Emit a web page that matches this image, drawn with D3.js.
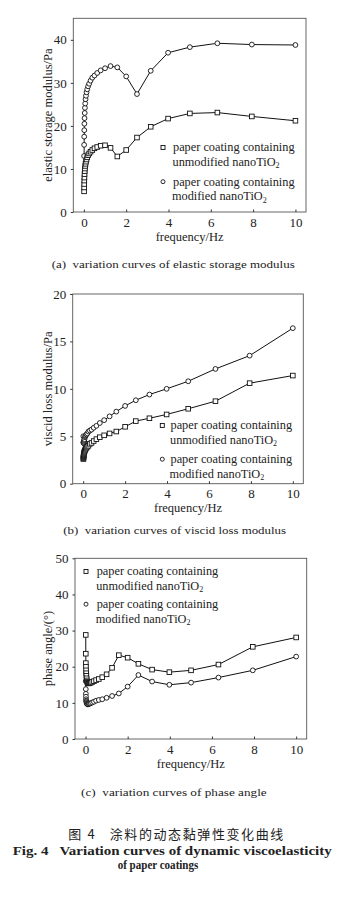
<!DOCTYPE html>
<html><head><meta charset="utf-8">
<script src="https://cdn.jsdelivr.net/npm/d3@7"></script>
<style>
body{margin:0;background:#fff;}
svg{display:block;}
text{font-family:"Liberation Serif","Times New Roman",serif;fill:#222;white-space:pre;}
</style></head>
<body>
<script>
// ---- data ----
const freq = [0.01,0.0126,0.0158,0.02,0.0251,0.0316,0.0398,0.0501,0.0631,0.0794,
  0.1,0.126,0.158,0.2,0.251,0.316,0.398,0.501,0.631,0.794,
  1,1.26,1.58,2,2.51,3.16,3.98,5.01,6.31,7.94,10];

// (a) elastic storage modulus / Pa
const storageUnmod = [4.8,5.7,6.5,7.3,8.0,8.8,9.5,10.1,10.7,11.2,
  11.7,12.2,12.7,13.2,13.6,14.0,14.4,14.8,15.1,15.4,
  15.5,14.9,12.9,14.4,17.3,19.8,21.7,22.9,23.1,22.2,21.2];
const storageMod = [13.0,15.6,17.5,19.0,20.5,21.8,23.0,24.2,25.2,26.2,
  27.0,27.8,28.5,29.2,29.8,30.5,31.2,31.7,32.3,32.9,
  33.4,33.9,33.6,31.5,27.4,32.8,37.0,38.3,39.2,38.9,38.8];

// (b) viscid loss modulus / Pa
const lossUnmod = [2.6,2.7,2.8,2.9,3.0,3.1,3.2,3.3,3.4,3.5,
  3.6,3.7,3.8,3.9,4.0,4.2,4.3,4.5,4.7,4.9,
  5.1,5.3,5.5,6.0,6.6,6.9,7.3,7.9,8.7,10.6,11.4];
const lossMod = [5.0,4.4,4.3,4.3,4.3,4.4,4.5,4.6,4.7,4.9,
  5.0,5.1,5.2,5.3,5.5,5.6,5.7,5.9,6.1,6.4,
  6.7,7.1,7.6,8.2,8.8,9.4,10.0,10.8,12.1,13.5,16.4];

// (c) phase angle / degree
const phaseUnmod = [28.8,23.6,21.0,20.0,19.0,18.2,17.5,16.8,16.2,15.8,
  15.5,15.4,15.4,15.5,15.6,15.8,16.0,16.3,16.6,17.1,
  17.9,19.7,23.2,22.5,20.8,19.2,18.5,19.0,20.6,25.5,28.1];
const phaseMod = [16.0,13.8,12.5,11.7,11.0,10.6,10.3,10.0,9.8,9.7,
  9.6,9.6,9.7,9.8,9.9,10.1,10.3,10.6,10.8,11.0,
  11.4,11.9,12.6,14.5,17.7,15.9,15.0,15.6,17.0,19.0,22.8];

const xTicks = [0,2,4,6,8,10];
const yTicksA = [0,10,20,30,40];
const yTicksB = [0,5,10,15,20];
const yTicksC = [0,10,20,30,40,50];

const legendLine1 = "paper coating containing";
const legendUnmod = "unmodified nanoTiO";
const legendMod = "modified nanoTiO";

const captionA = "(a)  variation curves of elastic storage modulus";
const captionB = "(b)  variation curves of viscid loss modulus";
const captionC = "(c)  variation curves of phase angle";
const titleCN = "图 4   涂料的动态黏弹性变化曲线";
const titleEN1 = "Fig. 4   Variation curves of dynamic viscoelasticity";
const titleEN2 = "of paper coatings";

// ---- drawing ----
const svg = d3.select("body").append("svg").attr("width",350).attr("height",902);

function panel(o){
  const x = d3.scaleLinear().domain([-0.5,10.5]).range([o.l,o.r]);
  const y = d3.scaleLinear().domain(o.yDomain).range([o.b,o.t]);
  const g = svg.append("g");
  // frame
  g.append("rect").attr("x",o.l).attr("y",o.t).attr("width",o.r-o.l).attr("height",o.b-o.t)
    .attr("fill","none").attr("stroke","#555").attr("stroke-width",0.9);
  // x axis (inward ticks)
  const xa = g.append("g").attr("transform",`translate(0,${o.b})`)
    .call(d3.axisBottom(x).tickValues(xTicks).tickSize(-2.5).tickPadding(0).tickSizeOuter(0));
  xa.select(".domain").remove();
  xa.selectAll("line").attr("stroke","#333");
  xa.selectAll("text").attr("y",14.5).attr("dy",null).attr("font-size",13).attr("fill","#222")
    .style("font-family",'"Liberation Serif",serif');
  // y axis (outward ticks)
  const ya = g.append("g").attr("transform",`translate(${o.l},0)`)
    .call(d3.axisLeft(y).tickValues(o.yTicks).tickSize(2.5).tickPadding(4).tickSizeOuter(0));
  ya.select(".domain").remove();
  ya.selectAll("line").attr("stroke","#333");
  ya.selectAll("text").attr("font-size",13).attr("fill","#222")
    .style("font-family",'"Liberation Serif",serif');
  // axis titles
  g.append("text").attr("x",(o.l+o.r)/2).attr("y",o.b+28.5).attr("text-anchor","middle")
    .attr("font-size",12.5).text("frequency/Hz");
  g.append("text").attr("transform",`translate(52,${(o.t+o.b)/2}) rotate(-90)`)
    .attr("text-anchor","middle").attr("font-size",12.5).text(o.yTitle);
  // series
  const line = d3.line().x((d,i)=>x(freq[i])).y(d=>y(d));
  [o.mod,o.unmod].forEach((arr,k)=>{
    g.append("path").datum(arr).attr("d",line).attr("fill","none")
      .attr("stroke","#111").attr("stroke-width",1);
  });
  g.selectAll(".cm").data(o.mod).enter().append("circle")
    .attr("cx",(d,i)=>x(freq[i])).attr("cy",d=>y(d)).attr("r",2.4)
    .attr("fill","#fff").attr("stroke","#111").attr("stroke-width",0.9);
  g.selectAll(".sq").data(o.unmod).enter().append("rect")
    .attr("x",(d,i)=>x(freq[i])-2.3).attr("y",d=>y(d)-2.3).attr("width",4.6).attr("height",4.6)
    .attr("fill","#fff").attr("stroke","#111").attr("stroke-width",0.9);
  // legend
  const L = o.legend;
  g.append("rect").attr("x",L.mx-2).attr("y",L.y1-2-3.5).attr("width",4).attr("height",4)
    .attr("fill","#fff").attr("stroke","#111").attr("stroke-width",0.9);
  g.append("circle").attr("cx",L.mx).attr("cy",L.y3-3.8).attr("r",2)
    .attr("fill","#fff").attr("stroke","#111").attr("stroke-width",0.9);
  const lt = (xx,yy,s,sub)=>{
    const t = g.append("text").attr("x",xx).attr("y",yy).attr("font-size",12.3).text(s);
    if(sub) t.append("tspan").attr("font-size",8).attr("dy",2.5).text("2");
  };
  lt(L.tx,L.y1,legendLine1,false);
  lt(L.tx-0.5,L.y1+14.5,legendUnmod,true);
  lt(L.tx,L.y3,legendLine1,false);
  lt(L.tx-1,L.y3+14.5,legendMod,true);
  // caption
  g.append("text").attr("x",o.cap.x).attr("y",o.cap.y).attr("font-size",10.5)
    .attr("textLength",o.cap.w).attr("lengthAdjust","spacingAndGlyphs").attr("fill","#333")
    .style("font-family",'"Liberation Serif",serif')
    .text(o.cap.text);
}

panel({l:73.3,r:306,t:18.3,b:212,yDomain:[0,45],yTicks:yTicksA,
  yTitle:"elastic storage modulus/Pa",unmod:storageUnmod,mod:storageMod,
  legend:{mx:163,tx:173,y1:151,y3:185.5},
  cap:{x:51.7,y:268,w:243,text:captionA}});
panel({l:72.7,r:303.3,t:294,b:483.7,yDomain:[0,20],yTicks:yTicksB,
  yTitle:"viscid loss modulus/Pa",unmod:lossUnmod,mod:lossMod,
  legend:{mx:162.3,tx:170.5,y1:429,y3:463},
  cap:{x:63.3,y:534,w:222.7,text:captionB}});
panel({l:75,r:306.7,t:558.3,b:739,yDomain:[0,50],yTicks:yTicksC,
  yTitle:"phase angle/(°)",unmod:phaseUnmod,mod:phaseMod,
  legend:{mx:86,tx:96.7,y1:575,y3:608},
  cap:{x:81,y:796,w:185.7,text:captionC}});

// figure titles
svg.append("text").attr("x",68.3).attr("y",839).attr("font-size",13)
  .attr("textLength",215).attr("lengthAdjust","spacing")
  .style("font-family",'"Noto Sans CJK SC",sans-serif').attr("fill","#222").text(titleCN);
svg.append("text").attr("x",12.7).attr("y",855).attr("font-size",12.3).attr("font-weight","bold")
  .attr("textLength",319).attr("lengthAdjust","spacingAndGlyphs").attr("fill","#222").text(titleEN1);
svg.append("text").attr("x",117.7).attr("y",869).attr("font-size",12.3).attr("font-weight","bold")
  .attr("textLength",80.6).attr("lengthAdjust","spacingAndGlyphs").attr("fill","#222").text(titleEN2);
</script>
</body></html>
